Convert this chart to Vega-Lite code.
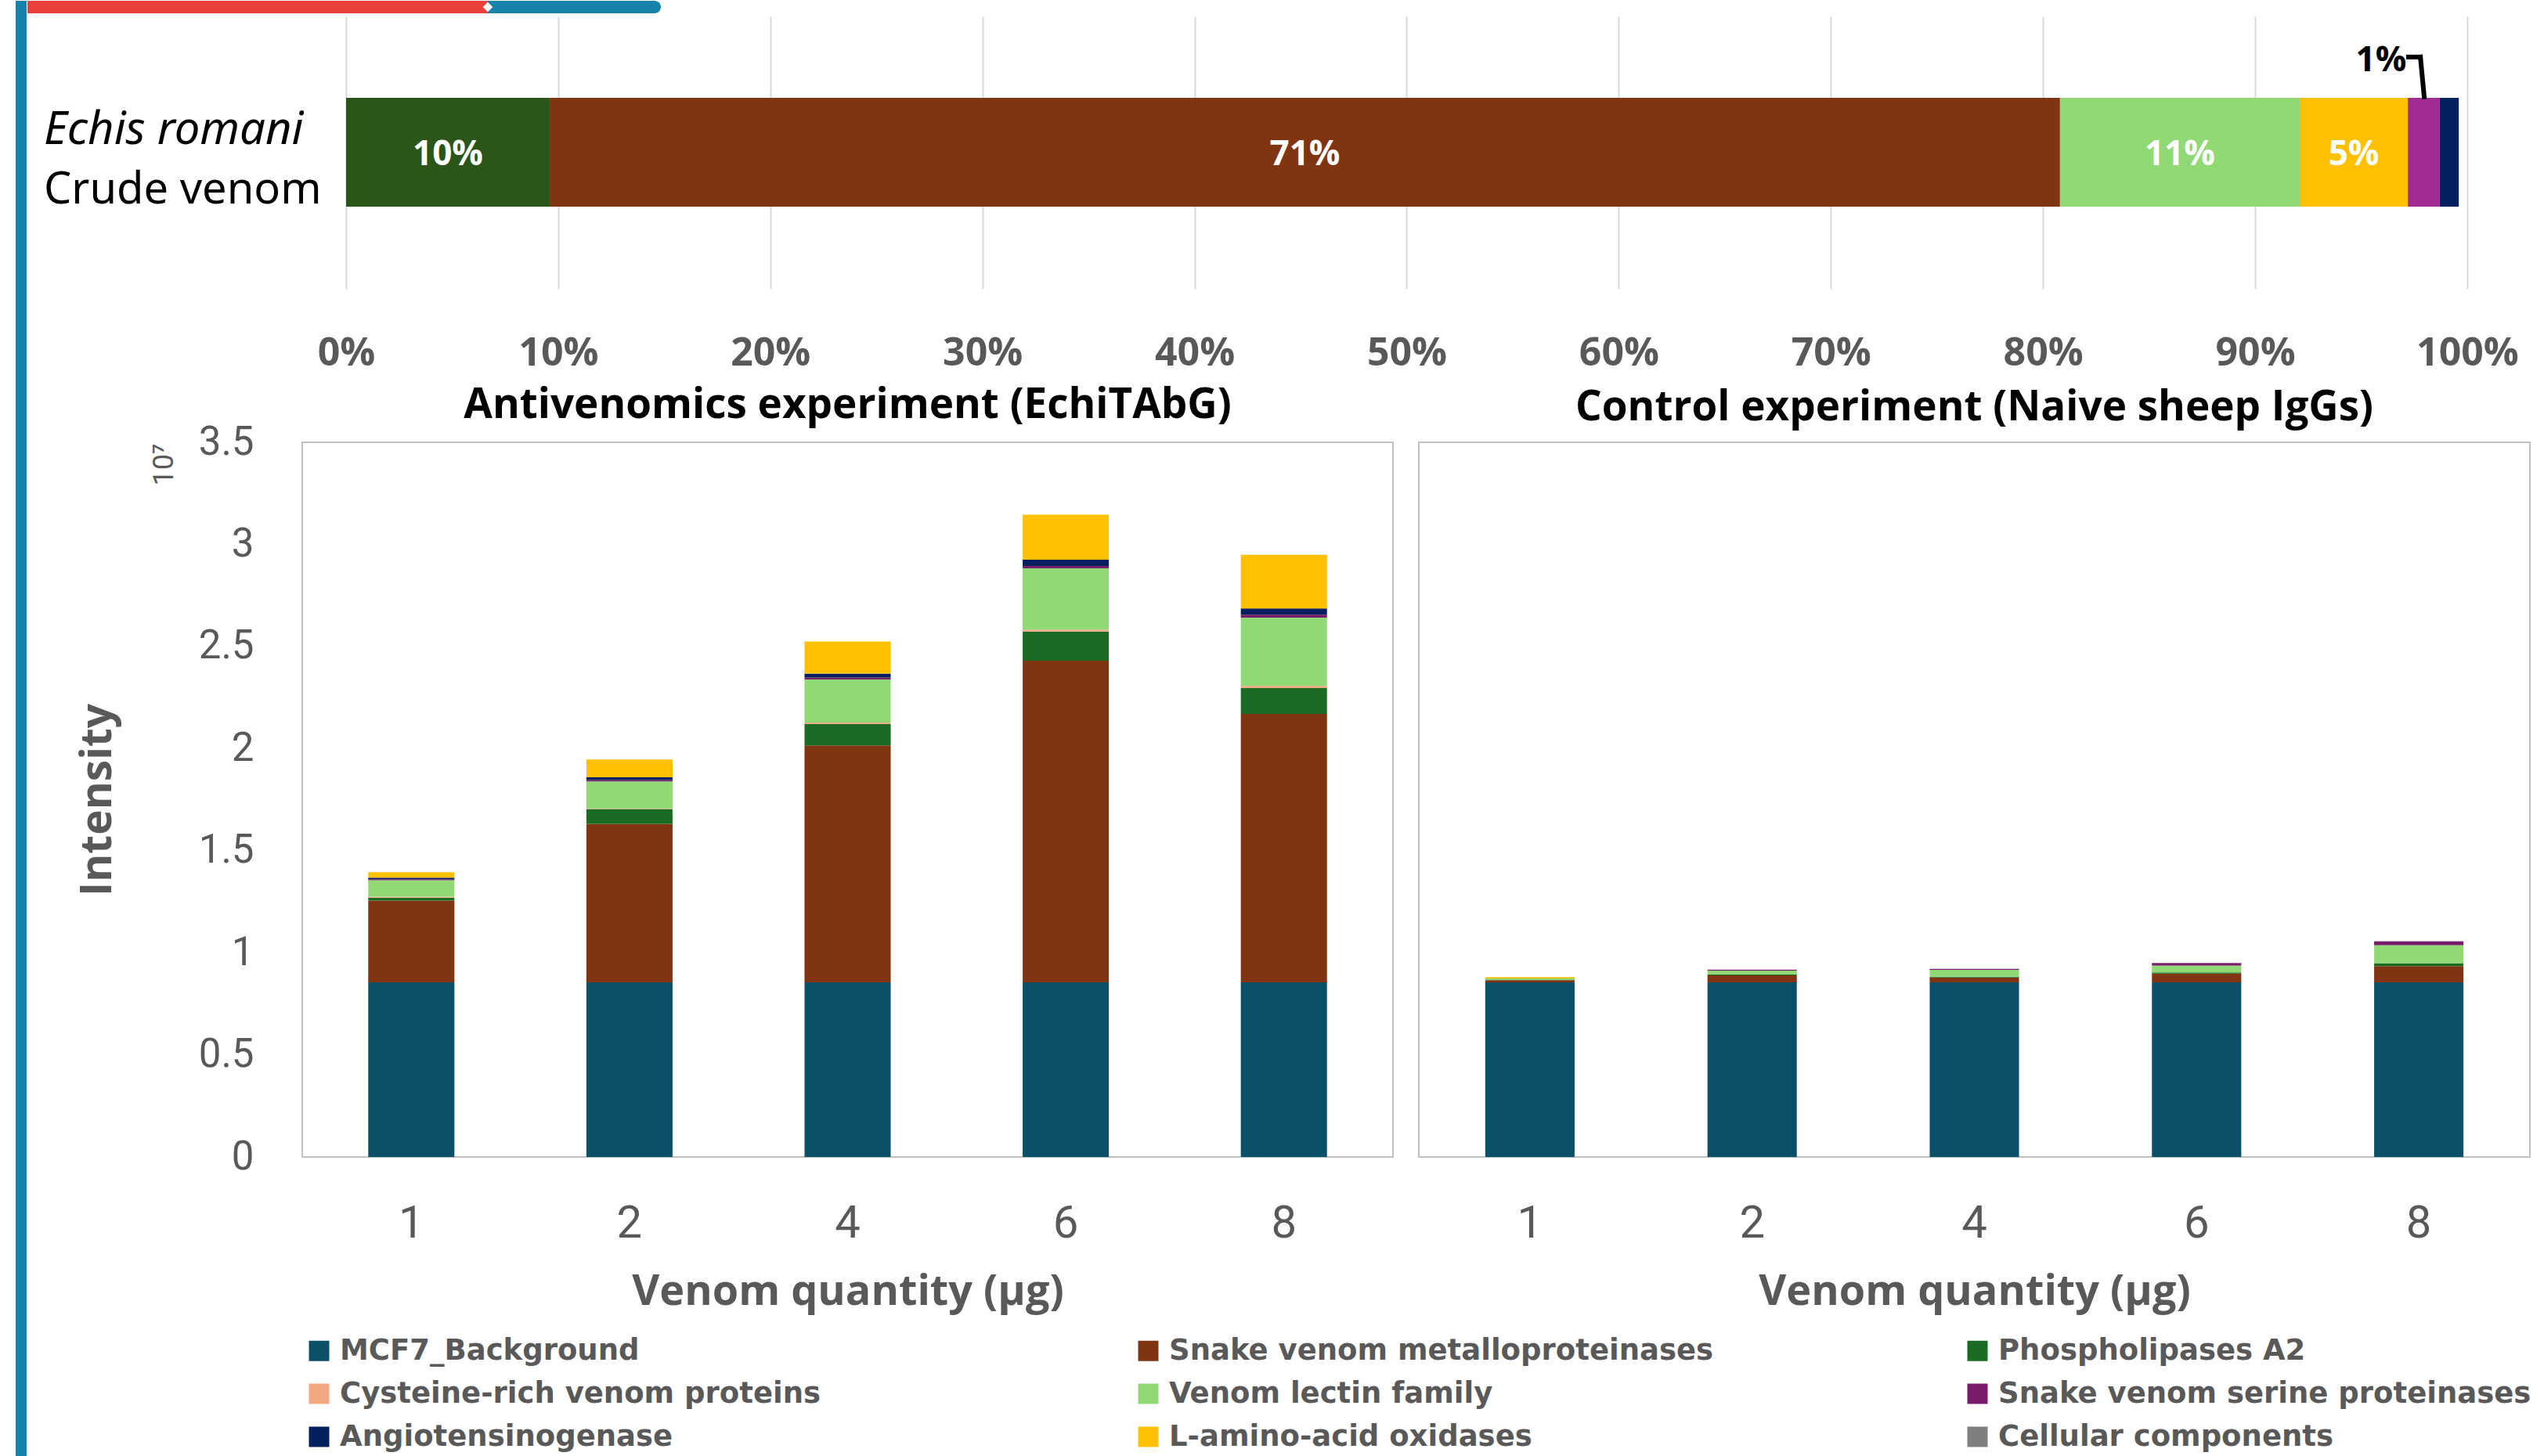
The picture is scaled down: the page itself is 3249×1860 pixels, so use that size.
{
"$schema": "https://vega.github.io/schema/vega-lite/v6.json",
"background": "white",
"padding": {"left": 19, "top": 0, "right": 0, "bottom": 0},
"bounds": "flush",
"spacing": 196,
"config": {"view": {"stroke": null}, "font": "Open Sans"},
"datasets": {
 "cats": [
  {"cat": "MCF7_Background", "rank": 1},
  {"cat": "Snake venom metalloproteinases", "rank": 2},
  {"cat": "Phospholipases A2", "rank": 3},
  {"cat": "Cysteine-rich venom proteins", "rank": 4},
  {"cat": "Venom lectin family", "rank": 5},
  {"cat": "Snake venom serine proteinases", "rank": 6},
  {"cat": "Angiotensinogenase", "rank": 7},
  {"cat": "L-amino-acid oxidases", "rank": 8},
  {"cat": "Cellular components", "rank": 9}
 ],
 "top": [
  {"seg": "Phospholipases A2", "start": 0, "end": 9.6, "label": "10%"},
  {"seg": "Snake venom metalloproteinases", "start": 9.6, "end": 80.8, "label": "71%"},
  {"seg": "Venom lectin family", "start": 80.8, "end": 92.1, "label": "11%"},
  {"seg": "L-amino-acid oxidases", "start": 92.1, "end": 97.2, "label": "5%"},
  {"seg": "Snake venom serine proteinases", "start": 97.2, "end": 98.7, "label": ""},
  {"seg": "Angiotensinogenase", "start": 98.7, "end": 99.6, "label": ""}
 ],
 "antiv": [
  {"q": "1", "cat": "MCF7_Background", "v": 0.855},
  {"q": "1", "cat": "Snake venom metalloproteinases", "v": 0.400},
  {"q": "1", "cat": "Phospholipases A2", "v": 0.015},
  {"q": "1", "cat": "Cysteine-rich venom proteins", "v": 0.005},
  {"q": "1", "cat": "Venom lectin family", "v": 0.080},
  {"q": "1", "cat": "Snake venom serine proteinases", "v": 0.005},
  {"q": "1", "cat": "Angiotensinogenase", "v": 0.008},
  {"q": "1", "cat": "L-amino-acid oxidases", "v": 0.026},
  {"q": "2", "cat": "MCF7_Background", "v": 0.855},
  {"q": "2", "cat": "Snake venom metalloproteinases", "v": 0.776},
  {"q": "2", "cat": "Phospholipases A2", "v": 0.073},
  {"q": "2", "cat": "Cysteine-rich venom proteins", "v": 0.003},
  {"q": "2", "cat": "Venom lectin family", "v": 0.132},
  {"q": "2", "cat": "Snake venom serine proteinases", "v": 0.007},
  {"q": "2", "cat": "Angiotensinogenase", "v": 0.013},
  {"q": "2", "cat": "L-amino-acid oxidases", "v": 0.087},
  {"q": "4", "cat": "MCF7_Background", "v": 0.855},
  {"q": "4", "cat": "Snake venom metalloproteinases", "v": 1.160},
  {"q": "4", "cat": "Phospholipases A2", "v": 0.106},
  {"q": "4", "cat": "Cysteine-rich venom proteins", "v": 0.007},
  {"q": "4", "cat": "Venom lectin family", "v": 0.210},
  {"q": "4", "cat": "Snake venom serine proteinases", "v": 0.010},
  {"q": "4", "cat": "Angiotensinogenase", "v": 0.019},
  {"q": "4", "cat": "L-amino-acid oxidases", "v": 0.157},
  {"q": "6", "cat": "MCF7_Background", "v": 0.855},
  {"q": "6", "cat": "Snake venom metalloproteinases", "v": 1.575},
  {"q": "6", "cat": "Phospholipases A2", "v": 0.143},
  {"q": "6", "cat": "Cysteine-rich venom proteins", "v": 0.010},
  {"q": "6", "cat": "Venom lectin family", "v": 0.300},
  {"q": "6", "cat": "Snake venom serine proteinases", "v": 0.011},
  {"q": "6", "cat": "Angiotensinogenase", "v": 0.031},
  {"q": "6", "cat": "L-amino-acid oxidases", "v": 0.220},
  {"q": "8", "cat": "MCF7_Background", "v": 0.855},
  {"q": "8", "cat": "Snake venom metalloproteinases", "v": 1.315},
  {"q": "8", "cat": "Phospholipases A2", "v": 0.126},
  {"q": "8", "cat": "Cysteine-rich venom proteins", "v": 0.011},
  {"q": "8", "cat": "Venom lectin family", "v": 0.334},
  {"q": "8", "cat": "Snake venom serine proteinases", "v": 0.015},
  {"q": "8", "cat": "Angiotensinogenase", "v": 0.030},
  {"q": "8", "cat": "L-amino-acid oxidases", "v": 0.263}
 ],
 "control": [
  {"q": "1", "cat": "MCF7_Background", "v": 0.855},
  {"q": "1", "cat": "Snake venom metalloproteinases", "v": 0.010},
  {"q": "1", "cat": "Phospholipases A2", "v": 0.003},
  {"q": "1", "cat": "Venom lectin family", "v": 0.006},
  {"q": "1", "cat": "L-amino-acid oxidases", "v": 0.007},
  {"q": "2", "cat": "MCF7_Background", "v": 0.855},
  {"q": "2", "cat": "Snake venom metalloproteinases", "v": 0.034},
  {"q": "2", "cat": "Phospholipases A2", "v": 0.004},
  {"q": "2", "cat": "Venom lectin family", "v": 0.019},
  {"q": "2", "cat": "Snake venom serine proteinases", "v": 0.005},
  {"q": "4", "cat": "MCF7_Background", "v": 0.855},
  {"q": "4", "cat": "Snake venom metalloproteinases", "v": 0.024},
  {"q": "4", "cat": "Phospholipases A2", "v": 0.004},
  {"q": "4", "cat": "Venom lectin family", "v": 0.033},
  {"q": "4", "cat": "Snake venom serine proteinases", "v": 0.005},
  {"q": "6", "cat": "MCF7_Background", "v": 0.855},
  {"q": "6", "cat": "Snake venom metalloproteinases", "v": 0.043},
  {"q": "6", "cat": "Phospholipases A2", "v": 0.006},
  {"q": "6", "cat": "Venom lectin family", "v": 0.033},
  {"q": "6", "cat": "Snake venom serine proteinases", "v": 0.013},
  {"q": "8", "cat": "MCF7_Background", "v": 0.855},
  {"q": "8", "cat": "Snake venom metalloproteinases", "v": 0.079},
  {"q": "8", "cat": "Phospholipases A2", "v": 0.015},
  {"q": "8", "cat": "Venom lectin family", "v": 0.088},
  {"q": "8", "cat": "Snake venom serine proteinases", "v": 0.019}
 ]
},
"vconcat": [
 {
  "width": 2765, "height": 348,
  "data": {"name": "top"},
  "layer": [
   {
    "mark": {"type": "rect"},
    "encoding": {
     "x": {"field": "start", "type": "quantitative", "title": null,
       "scale": {"domain": [-2.067, 100], "nice": false, "zero": false},
       "axis": {"title": null, "values": [0,10,20,30,40,50,60,70,80,90,100], "labelExpr": "datum.value + '%'", "grid": true, "gridColor": "#d9d9d9", "gridWidth": 2, "domain": false, "ticks": false, "labelFontSize": 50, "labelFont": "Open Sans", "labelFontWeight": "bold", "labelColor": "#595959", "labelPadding": 57, "labelFlush": false, "labelOverlap": false, "labelBound": false}},
     "x2": {"field": "end"},
     "y": {"datum": 0.302, "type": "quantitative", "scale": {"domain": [0, 1], "nice": false, "zero": false}, "axis": null},
     "y2": {"datum": 0.701},
     "fill": {"field": "seg", "type": "nominal", "legend": null,
       "scale": {"domain": ["Phospholipases A2", "Snake venom metalloproteinases", "Venom lectin family", "L-amino-acid oxidases", "Snake venom serine proteinases", "Angiotensinogenase"],
                 "range": ["#2b5519", "#813412", "#90d975", "#ffc000", "#a02b93", "#03205f"]}}
    }
   },
   {
    "transform": [{"filter": "datum.label != ''"}, {"fold": ["start", "end"], "as": ["k", "pos"]}],
    "mark": {"type": "text", "color": "white", "fontSize": 44, "fontWeight": "bold", "font": "Open Sans", "baseline": "middle", "align": "center"},
    "encoding": {
     "x": {"aggregate": "mean", "field": "pos", "type": "quantitative", "title": null},
     "y": {"datum": 0.49, "type": "quantitative", "axis": null},
     "text": {"field": "label"},
     "detail": {"field": "seg"}
    }
   },
   {
    "data": {"values": [{"t": "1%"}]},
    "mark": {"type": "text", "color": "black", "fontSize": 44, "fontWeight": "bold", "font": "Open Sans", "baseline": "middle", "align": "center"},
    "encoding": {"x": {"datum": 95.94, "type": "quantitative", "title": null}, "y": {"datum": 0.836, "type": "quantitative", "axis": null}, "text": {"field": "t"}}
   },
   {
    "data": {"values": [{}]},
    "mark": {"type": "rule", "color": "black", "strokeWidth": 6, "strokeCap": "square"},
    "encoding": {"x": {"datum": 97.23, "type": "quantitative", "title": null}, "x2": {"datum": 97.79}, "y": {"datum": 0.851, "type": "quantitative", "axis": null}, "y2": {"datum": 0.851}}
   },
   {
    "data": {"values": [{}]},
    "mark": {"type": "rule", "color": "black", "strokeWidth": 6, "strokeCap": "square"},
    "encoding": {"x": {"datum": 97.79, "type": "quantitative", "title": null}, "x2": {"datum": 97.97}, "y": {"datum": 0.851, "type": "quantitative", "axis": null}, "y2": {"datum": 0.705}}
   },
   {
    "data": {"values": [{"t": "Echis romani"}]},
    "mark": {"type": "text", "color": "black", "fontSize": 58, "fontStyle": "italic", "font": "Noto Sans", "baseline": "middle", "align": "left"},
    "encoding": {"x": {"datum": -14.25, "type": "quantitative", "title": null}, "y": {"datum": 0.58, "type": "quantitative", "axis": null}, "text": {"field": "t"}}
   },
   {
    "data": {"values": [{"t": "Crude venom"}]},
    "mark": {"type": "text", "color": "black", "fontSize": 56, "font": "Noto Sans", "baseline": "middle", "align": "left"},
    "encoding": {"x": {"datum": -14.25, "type": "quantitative", "title": null}, "y": {"datum": 0.362, "type": "quantitative", "axis": null}, "text": {"field": "t"}}
   },
   {
    "data": {"values": [{}]},
    "mark": {"type": "rect", "color": "#1783ab"},
    "encoding": {"x": {"datum": -15.58, "type": "quantitative", "title": null}, "x2": {"datum": -15.06}, "y": {"datum": -4.287, "type": "quantitative", "axis": null}, "y2": {"datum": 1.0575}}
   },
   {
    "data": {"values": [{}]},
    "mark": {"type": "rect", "color": "#e8403b"},
    "encoding": {"x": {"datum": -15.02, "type": "quantitative", "title": null}, "x2": {"datum": 6.68}, "y": {"datum": 1.0115, "type": "quantitative", "axis": null}, "y2": {"datum": 1.0575}}
   },
   {
    "data": {"values": [{}]},
    "mark": {"type": "rect", "color": "#1783ab", "cornerRadiusTopRight": 8, "cornerRadiusBottomRight": 8},
    "encoding": {"x": {"datum": 6.68, "type": "quantitative", "title": null}, "x2": {"datum": 14.84}, "y": {"datum": 1.0115, "type": "quantitative", "axis": null}, "y2": {"datum": 1.0575}}
   },
   {
    "data": {"values": [{}]},
    "mark": {"type": "point", "shape": "diamond", "filled": true, "color": "white", "size": 160, "opacity": 1},
    "encoding": {"x": {"datum": 6.68, "type": "quantitative", "title": null}, "y": {"datum": 1.0345, "type": "quantitative", "axis": null}}
   }
  ]
 },
 {
  "bounds": "flush",
  "spacing": 33,
  "hconcat": [
   {
    "width": 1393, "height": 913,
    "view": {"stroke": "#bfbfbf", "strokeWidth": 2},
    "title": {"text": "Antivenomics experiment (EchiTAbG)", "fontSize": 53, "font": "Open Sans", "fontWeight": "bold", "color": "black", "offset": -6, "anchor": "middle"},
    "layer": [
     {
      "data": {"name": "antiv"},
      "transform": [{"lookup": "cat", "from": {"data": {"name": "cats"}, "key": "cat", "fields": ["rank"]}}],
      "mark": {"type": "bar"},
      "encoding": {
       "x": {"field": "q", "type": "ordinal", "sort": ["1", "2", "4", "6", "8"], "scale": {"paddingInner": 0.605, "paddingOuter": 0.3025},
         "axis": {"title": "Venom quantity (µg)", "labelAngle": 0, "domain": false, "ticks": false, "labelFontSize": 58, "labelFont": "Roboto", "labelColor": "#595959", "labelPadding": 56, "titleFontSize": 54, "titleFont": "Open Sans", "titleFontWeight": "bold", "titleColor": "#595959", "titlePadding": 31}},
       "y": {"field": "v", "type": "quantitative", "stack": "zero", "scale": {"domain": [0, 3.5], "nice": false, "zero": true},
         "axis": {"title": "Intensity", "values": [0, 0.5, 1, 1.5, 2, 2.5, 3, 3.5], "format": "~g", "domain": false, "ticks": false, "grid": false, "labelFontSize": 51, "labelFont": "Roboto", "labelColor": "#595959", "labelPadding": 62, "labelFlush": false, "labelOverlap": false, "labelBound": false, "titleFontSize": 55, "titleFont": "Open Sans", "titleFontWeight": "bold", "titleColor": "#595959", "titlePadding": 100}},
       "order": {"field": "rank", "type": "quantitative", "sort": "ascending"},
       "color": {"field": "cat", "type": "nominal",
         "scale": {"domain": ["MCF7_Background", "Snake venom metalloproteinases", "Phospholipases A2", "Cysteine-rich venom proteins", "Venom lectin family", "Snake venom serine proteinases", "Angiotensinogenase", "L-amino-acid oxidases", "Cellular components"],
                   "range": ["#0b5069", "#813412", "#1a6b24", "#f2a982", "#90d975", "#7a1c6c", "#041f5e", "#ffc000", "#7f7f7f"]},
         "legend": {"title": null, "orient": "none", "legendX": 3, "legendY": 1686, "columns": 3, "gridAlign": "all", "columnPadding": 318, "rowPadding": 17, "symbolType": "square", "symbolSize": 676, "symbolStrokeWidth": 0, "labelFontSize": 37, "labelFont": "DejaVu Sans", "labelFontWeight": "bold", "labelColor": "#595959", "labelOffset": 8, "labelLimit": 2000, "padding": 0,
           "values": ["MCF7_Background", "Cysteine-rich venom proteins", "Angiotensinogenase", "Snake venom metalloproteinases", "Venom lectin family", "L-amino-acid oxidases", "Phospholipases A2", "Snake venom serine proteinases", "Cellular components"]}}
      }
     },
     {
      "data": {"values": [{"t": "10⁷"}]},
      "mark": {"type": "text", "angle": 270, "fontSize": 36, "color": "#595959", "font": "Roboto", "dy": -315, "align": "center", "baseline": "middle"},
      "encoding": {"x": {"datum": "1", "type": "ordinal", "title": null}, "y": {"datum": 3.39, "type": "quantitative", "title": null}, "text": {"field": "t"}}
     }
    ]
   },
   {
    "width": 1419, "height": 913,
    "view": {"stroke": "#bfbfbf", "strokeWidth": 2},
    "title": {"text": "Control experiment (Naive sheep IgGs)", "fontSize": 53, "font": "Open Sans", "fontWeight": "bold", "color": "black", "offset": 17, "anchor": "middle"},
    "data": {"name": "control"},
    "transform": [{"lookup": "cat", "from": {"data": {"name": "cats"}, "key": "cat", "fields": ["rank"]}}],
    "mark": {"type": "bar"},
    "encoding": {
     "x": {"field": "q", "type": "ordinal", "sort": ["1", "2", "4", "6", "8"], "scale": {"paddingInner": 0.598, "paddingOuter": 0.299},
       "axis": {"title": "Venom quantity (µg)", "labelAngle": 0, "domain": false, "ticks": false, "labelFontSize": 58, "labelFont": "Roboto", "labelColor": "#595959", "labelPadding": 56, "titleFontSize": 54, "titleFont": "Open Sans", "titleFontWeight": "bold", "titleColor": "#595959", "titlePadding": 31}},
     "y": {"field": "v", "type": "quantitative", "stack": "zero", "scale": {"domain": [0, 3.5], "nice": false, "zero": true}, "axis": null},
     "order": {"field": "rank", "type": "quantitative", "sort": "ascending"},
     "color": {"field": "cat", "type": "nominal",
       "scale": {"domain": ["MCF7_Background", "Snake venom metalloproteinases", "Phospholipases A2", "Cysteine-rich venom proteins", "Venom lectin family", "Snake venom serine proteinases", "Angiotensinogenase", "L-amino-acid oxidases", "Cellular components"],
                 "range": ["#0b5069", "#813412", "#1a6b24", "#f2a982", "#90d975", "#7a1c6c", "#041f5e", "#ffc000", "#7f7f7f"]},
       "legend": {"title": null, "orient": "none", "legendX": 3, "legendY": 1686, "columns": 3, "gridAlign": "all", "columnPadding": 318, "rowPadding": 17, "symbolType": "square", "symbolSize": 676, "symbolStrokeWidth": 0, "labelFontSize": 37, "labelFont": "DejaVu Sans", "labelFontWeight": "bold", "labelColor": "#595959", "labelOffset": 8, "labelLimit": 2000, "padding": 0,
         "values": ["MCF7_Background", "Cysteine-rich venom proteins", "Angiotensinogenase", "Snake venom metalloproteinases", "Venom lectin family", "L-amino-acid oxidases", "Phospholipases A2", "Snake venom serine proteinases", "Cellular components"]}}
    }
   }
  ]
 }
]
}
